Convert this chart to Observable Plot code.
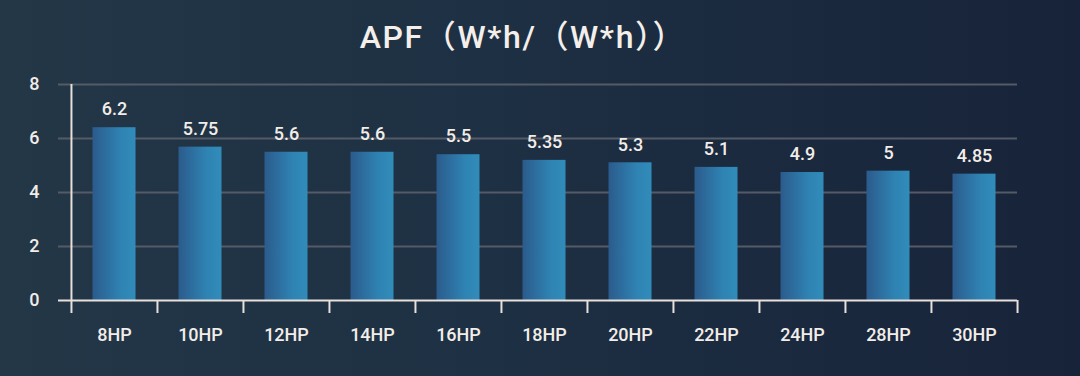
<!DOCTYPE html>
<html>
<head>
<meta charset="utf-8">
<script src="https://cdn.jsdelivr.net/npm/d3@7"></script>
<script src="https://cdn.jsdelivr.net/npm/@observablehq/plot@0.6"></script>
<style>
  html, body { margin: 0; padding: 0; }
  body {
    width: 1080px; height: 376px; overflow: hidden;
    background: linear-gradient(90deg, #233747 0%, #1e3043 45%, #172339 100%);
    font-family: Roboto, "Liberation Sans", Arial, sans-serif;
  }
  #wrap { position: relative; width: 1080px; height: 376px; }
  #title {
    position: absolute; left: 0; top: 13px; width: 1046px; text-align: center;
    color: #f4efea; font-family: Roboto, "Noto Sans CJK SC", sans-serif;
    font-size: 32px; font-weight: 500; line-height: 48px; letter-spacing: 1.6px;
  }
  #chart { position: absolute; left: 0; top: 0; }
  #chart text { font-family: Roboto, "Liberation Sans", Arial, sans-serif; font-weight: 500; }
</style>
</head>
<body>
<div id="wrap">
  <div id="title">APF（W*h/（W*h））</div>
  <div id="chart"></div>
</div>
<script>
const categories = ["8HP","10HP","12HP","14HP","16HP","18HP","20HP","22HP","24HP","28HP","30HP"];
const barValues = [6.40, 5.68, 5.49, 5.49, 5.40, 5.19, 5.10, 4.93, 4.74, 4.79, 4.68];
const valueLabels = ["6.2","5.75","5.6","5.6","5.5","5.35","5.3","5.1","4.9","5","4.85"];
const yTicks = [0, 2, 4, 6, 8];

const data = categories.map((c, i) => ({cat: c, v: barValues[i], label: valueLabels[i]}));

const xLeft = 70, xRight = 1017;
const bw = (xRight - xLeft) / categories.length;
const textColor = "#f2ede8";
const axisColor = "#e8e0db";

const chart = Plot.plot({
  width: 1080,
  height: 376,
  marginLeft: 58,
  marginRight: 63,
  marginTop: 84,
  marginBottom: 76,
  style: {background: "transparent", color: textColor, fontFamily: "Roboto, Liberation Sans, Arial, sans-serif", overflow: "visible"},
  x: {type: "band", domain: categories, range: [xLeft, xRight], padding: 0, label: null},
  y: {domain: [0, 8], label: null},
  marks: [
    Plot.ruleY(yTicks.filter(d => d > 0), {stroke: "#555b66", strokeWidth: 2}),
    Plot.barY(data, {x: "cat", y: "v", fill: "url(#barGrad)", insetLeft: 21.5, insetRight: 21.5}),
    Plot.ruleY([0], {stroke: axisColor, strokeWidth: 2.2}),
    Plot.ruleX([categories[0]], {x: d => d, dx: -bw / 2, stroke: axisColor, strokeWidth: 2, insetBottom: -13}),
    Plot.ruleX(categories.slice(1), {x: d => d, dx: -bw / 2, stroke: axisColor, strokeWidth: 2, insetTop: 216, insetBottom: -13}),
    Plot.ruleX([categories[categories.length - 1]], {x: d => d, dx: bw / 2, stroke: axisColor, strokeWidth: 2, insetTop: 216, insetBottom: -13}),
    Plot.text(data, {x: "cat", y: "v", text: "label", dy: -18, fill: textColor, fontSize: 18, letterSpacing: 1}),
    Plot.axisX({tickSize: 0, tickPadding: 28, fontSize: 18, fill: textColor, letterSpacing: 0.5}),
    Plot.axisY({ticks: yTicks, tickSize: 0, tickPadding: 0, dx: -19, fontSize: 18, fill: textColor})
  ]
});

const svg = d3.select(chart);
const defs = svg.insert("defs", ":first-child");
const g = defs.append("linearGradient").attr("id", "barGrad").attr("x1", "0").attr("x2", "1").attr("y1", "0").attr("y2", "0");
g.append("stop").attr("offset", "0%").attr("stop-color", "#2b5b8c");
g.append("stop").attr("offset", "65%").attr("stop-color", "#2e83b3");
g.append("stop").attr("offset", "100%").attr("stop-color", "#318cba");

document.getElementById("chart").appendChild(chart);
</script>
</body>
</html>
